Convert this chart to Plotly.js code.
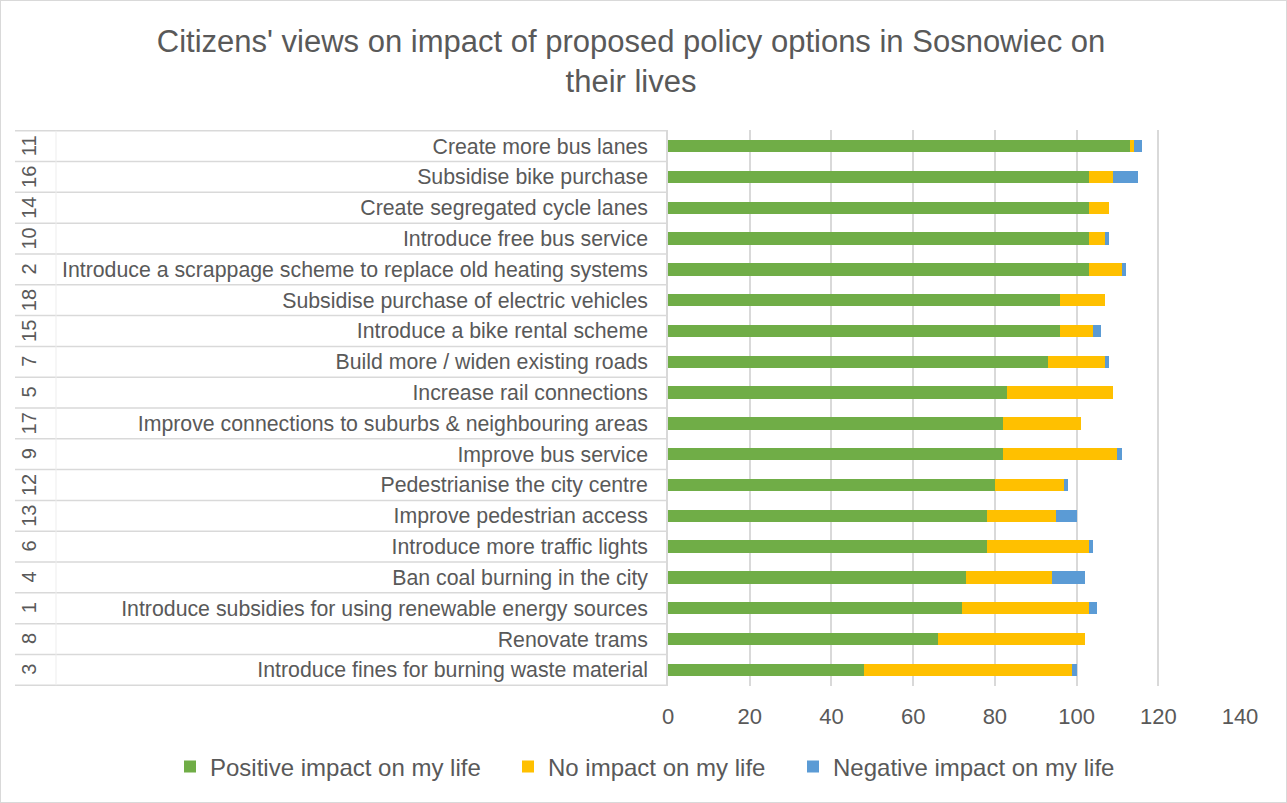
<!DOCTYPE html>
<html>
<head>
<meta charset="utf-8">
<script src="https://cdn.plot.ly/plotly-3.0.1.min.js"></script>
<style>
  html, body { margin: 0; padding: 0; background: #ffffff; }
  #wrap { position: relative; width: 1287px; height: 803px; }
  #chart { width: 1287px; height: 803px; }
  #frame { position: absolute; left: 0; top: 0; width: 1285px; height: 801px; border: 1px solid #D9D9D9; pointer-events: none; }
</style>
</head>
<body>
<div id="wrap"><div id="chart"></div><div id="frame"></div></div>
<script>
// Data, listed from top row to bottom row
const optionNumbers = [11, 16, 14, 10, 2, 18, 15, 7, 5, 17, 9, 12, 13, 6, 4, 1, 8, 3];
const optionLabels = [
  "Create more bus lanes",
  "Subsidise bike purchase",
  "Create segregated cycle lanes",
  "Introduce free bus service",
  "Introduce a scrappage scheme to replace old heating systems",
  "Subsidise purchase of electric vehicles",
  "Introduce a bike rental scheme",
  "Build more / widen existing roads",
  "Increase rail connections",
  "Improve connections to suburbs & neighbouring areas",
  "Improve bus service",
  "Pedestrianise the city centre",
  "Improve pedestrian access",
  "Introduce more traffic lights",
  "Ban coal burning in the city",
  "Introduce subsidies for using renewable energy sources",
  "Renovate trams",
  "Introduce fines for burning waste material"
];
const positiveImpact = [113, 103, 103, 103, 103, 96, 96, 93, 83, 82, 82, 80, 78, 78, 73, 72, 66, 48];
const noImpact       = [1, 6, 5, 4, 8, 11, 8, 14, 26, 19, 28, 17, 17, 25, 21, 31, 36, 51];
const negativeImpact = [2, 6, 0, 1, 1, 0, 2, 1, 0, 0, 1, 1, 5, 1, 8, 2, 0, 1];
const seriesNames = ["Positive impact on my life", "No impact on my life", "Negative impact on my life"];
const xTicks = [0, 20, 40, 60, 80, 100, 120, 140];

const FONT = "Liberation Sans, Arial, sans-serif";
const TXT = "#595959";
const GRID = "#D9D9D9";
const colors = ["#70AD47", "#FFC000", "#5B9BD5"];
const legendIds = ["legend", "legend2", "legend3"];

// plot area in pixels: left 668, right 1240 => width 572
const L = 668, R = 47, T = 130, B = 117;
const plotW = 1287 - L - R;
const plotH = 803 - T - B;
const px2paper = p => (p - L) / plotW;

const seriesValues = [positiveImpact, noImpact, negativeImpact];
const traces = seriesValues.map((vals, k) => ({
  type: "bar",
  orientation: "h",
  name: seriesNames[k],
  legend: legendIds[k],
  x: vals,
  y: optionLabels,
  marker: { color: colors[k], line: { width: 0 } },
  hoverinfo: "x+y+name"
}));

const shapes = [];
const n = optionLabels.length;
for (let i = 0; i <= n; i++) {
  shapes.push({
    type: "line", xref: "paper", yref: "y",
    x0: px2paper(15), x1: 0, y0: i - 0.5, y1: i - 0.5,
    line: { color: GRID, width: 1.5 }
  });
}
shapes.push({
  type: "line", xref: "paper", yref: "y",
  x0: px2paper(56), x1: px2paper(56), y0: -0.5, y1: n - 0.5,
  line: { color: "#EDEDED", width: 1 }
});

const annotations = optionNumbers.map((num, i) => ({
  xref: "paper", yref: "y",
  x: px2paper(29), y: optionLabels[i],
  text: String(num), showarrow: false, textangle: -90,
  font: { family: FONT, size: 20, color: TXT },
  xanchor: "center", yanchor: "middle"
}));

function legendBox(leftPx) {
  return {
    orientation: "h", xref: "paper", yref: "paper",
    x: px2paper(leftPx), xanchor: "left",
    y: (686 - 767) / plotH, yanchor: "middle",
    font: { family: FONT, size: 24, color: TXT },
    itemwidth: 30, bgcolor: "rgba(0,0,0,0)"
  };
}

const layout = {
  width: 1287, height: 803,
  margin: { l: L, r: R, t: T, b: B, pad: 0 },
  paper_bgcolor: "#ffffff", plot_bgcolor: "#ffffff",
  barmode: "stack", bargap: 0.6,
  font: { family: FONT, color: TXT },
  title: {
    text: "Citizens' views on impact of proposed policy options in Sosnowiec on<br>their lives",
    font: { family: FONT, size: 31, color: TXT },
    xref: "container", x: 631 / 1287, xanchor: "center",
    yref: "container", y: 1 - 52 / 803, yanchor: "middle"
  },
  xaxis: {
    range: [0, 140], tickvals: xTicks, ticktext: xTicks.map(String),
    showgrid: true, gridcolor: GRID, gridwidth: 2,
    zeroline: false, showline: false, ticks: "",
    tickfont: { family: FONT, size: 22, color: TXT },
    ticklabelstandoff: 15
  },
  yaxis: {
    type: "category", autorange: "reversed",
    showgrid: false, zeroline: false,
    showline: true, linecolor: GRID, linewidth: 1.5,
    ticks: "", ticklabelstandoff: 14,
    tickfont: { family: FONT, size: 21.3, color: TXT }
  },
  legend: legendBox(170),
  legend2: legendBox(508),
  legend3: legendBox(793),
  shapes: shapes,
  annotations: annotations,
  showlegend: true
};

Plotly.newPlot("chart", traces, layout, { displayModeBar: false, responsive: false });
</script>
</body>
</html>
